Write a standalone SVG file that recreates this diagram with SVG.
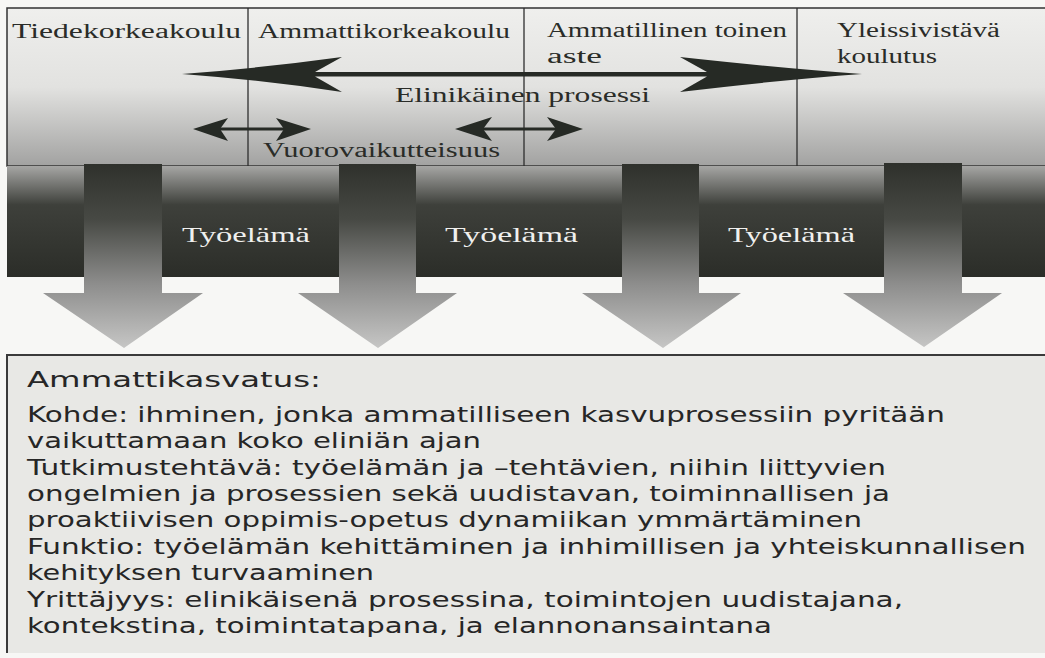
<svg xmlns="http://www.w3.org/2000/svg" width="1045" height="658" viewBox="0 0 1045 658">
<defs>
<style>
.top{font-family:"Liberation Serif","DejaVu Serif",serif;font-size:20px;fill:#2a2c28}
.work{font-family:"Liberation Serif","DejaVu Serif",serif;font-size:21px;fill:#f0f0ee}
.body{font-family:"DejaVu Sans","Verdana",sans-serif;font-size:22px;fill:#262626}
.head{font-family:"DejaVu Sans","Verdana",sans-serif;font-size:22px;fill:#262626}
.div{stroke:#2e2e2e;stroke-width:1.3}
.ink{fill:#262a25}
.thin{stroke:#262a25;stroke-width:3;fill:none}
</style>
<linearGradient id="gTop" x1="0" y1="8" x2="0" y2="166" gradientUnits="userSpaceOnUse">
<stop offset="0" stop-color="#efefed"/>
<stop offset="0.5" stop-color="#e2e2e0"/>
<stop offset="1" stop-color="#a2a2a1"/>
</linearGradient>
<linearGradient id="gBand" x1="0" y1="166" x2="0" y2="277" gradientUnits="userSpaceOnUse">
<stop offset="0" stop-color="#a6a6a4"/>
<stop offset="0.35" stop-color="#3e403b"/>
<stop offset="1" stop-color="#2b2d28"/>
</linearGradient>
<linearGradient id="gArrow" x1="0" y1="164" x2="0" y2="348" gradientUnits="userSpaceOnUse">
<stop offset="0" stop-color="#2f312c"/>
<stop offset="0.3" stop-color="#474944"/>
<stop offset="0.65" stop-color="#8d8d8c"/>
<stop offset="1" stop-color="#c6c6c5"/>
</linearGradient>
</defs>
<rect width="1045" height="658" fill="#f7f7f5"/>

<g id="top-panel">
<rect x="7" y="8" width="1050" height="158" fill="url(#gTop)" stroke="#333" stroke-width="1.5"/>
<line class="div" x1="248" y1="8" x2="248" y2="166"/>
<line class="div" x1="524" y1="8" x2="524" y2="166"/>
<line class="div" x1="797" y1="8" x2="797" y2="166"/>
</g>

<g id="node-tiedekorkeakoulu"><text class="top" x="12" y="38" textLength="229" lengthAdjust="spacingAndGlyphs">Tiedekorkeakoulu</text></g>
<g id="node-ammattikorkeakoulu"><text class="top" x="258" y="38" textLength="252" lengthAdjust="spacingAndGlyphs">Ammattikorkeakoulu</text></g>
<g id="node-ammatillinen"><text class="top" x="547" y="37" textLength="240" lengthAdjust="spacingAndGlyphs">Ammatillinen toinen</text><text class="top" x="547" y="63" textLength="55" lengthAdjust="spacingAndGlyphs">aste</text></g>
<g id="node-yleissivistava"><text class="top" x="837" y="37" textLength="163" lengthAdjust="spacingAndGlyphs">Yleissivistävä</text><text class="top" x="837" y="63" textLength="100" lengthAdjust="spacingAndGlyphs">koulutus</text></g>

<g id="connectors">
<path class="ink" d="M182,74 Q262,68 342,57 L315,72 L707,72 L680,57 Q780,68 862,74 Q780,80 680,92 L707,76.5 L315,76.5 L342,92 Q262,80 182,74 Z"/>
<line class="thin" x1="215" y1="129" x2="292" y2="129"/>
<path class="ink" d="M193,129 L228,118 L220,129 L228,141 Z"/>
<path class="ink" d="M311,129 L276,118 L284,129 L276,141 Z"/>
<line class="thin" x1="478" y1="129" x2="560" y2="129"/>
<path class="ink" d="M455,129 L492,117 L483,129 L492,141 Z"/>
<path class="ink" d="M583,129 L547,117 L556,129 L547,141 Z"/>
</g>

<g id="label-elinikainen"><text class="top" x="395" y="102" textLength="255" lengthAdjust="spacingAndGlyphs">Elinikäinen prosessi</text></g>
<g id="label-vuorovaikutteisuus"><text class="top" x="263" y="157" textLength="237" lengthAdjust="spacingAndGlyphs">Vuorovaikutteisuus</text></g>

<g id="band-tyoelama">
<rect x="7" y="166" width="1050" height="111" fill="url(#gBand)"/>
<text class="work" x="182" y="242" textLength="128" lengthAdjust="spacingAndGlyphs">Työelämä</text>
<text class="work" x="445" y="242" textLength="133" lengthAdjust="spacingAndGlyphs">Työelämä</text>
<text class="work" x="728" y="242" textLength="127" lengthAdjust="spacingAndGlyphs">Työelämä</text>
</g>

<g id="down-arrows">
<path fill="url(#gArrow)" d="M84,164 L162,164 L162,293 L203,293 L124,348 L43,293 L84,293 Z"/>
<path fill="url(#gArrow)" d="M339,164 L416,164 L416,293 L457,293 L378,348 L298,293 L339,293 Z"/>
<path fill="url(#gArrow)" d="M622,164 L699,164 L699,293 L741,293 L663,348 L582,293 L622,293 Z"/>
<path fill="url(#gArrow)" d="M884,163 L962,163 L962,293 L1002,293 L924,347 L843,293 L884,293 Z"/>
</g>

<g id="node-ammattikasvatus">
<rect x="7" y="355" width="1050" height="298" fill="#e8e8e5"/>
<path d="M7,653 L7,355 L1045,355" fill="none" stroke="#3a3a3a" stroke-width="2"/>
<text class="head" x="27" y="387" textLength="294" lengthAdjust="spacingAndGlyphs">Ammattikasvatus:</text>
<text class="body" x="27" y="422" textLength="918" lengthAdjust="spacingAndGlyphs">Kohde: ihminen, jonka ammatilliseen kasvuprosessiin pyritään</text>
<text class="body" x="27" y="448" textLength="454" lengthAdjust="spacingAndGlyphs">vaikuttamaan koko eliniän ajan</text>
<text class="body" x="27" y="475" textLength="859" lengthAdjust="spacingAndGlyphs">Tutkimustehtävä: työelämän ja –tehtävien, niihin liittyvien</text>
<text class="body" x="27" y="501" textLength="863" lengthAdjust="spacingAndGlyphs">ongelmien ja prosessien sekä uudistavan, toiminnallisen ja</text>
<text class="body" x="27" y="527" textLength="835" lengthAdjust="spacingAndGlyphs">proaktiivisen oppimis-opetus dynamiikan ymmärtäminen</text>
<text class="body" x="27" y="554" textLength="999" lengthAdjust="spacingAndGlyphs">Funktio: työelämän kehittäminen ja inhimillisen ja yhteiskunnallisen</text>
<text class="body" x="27" y="580" textLength="347" lengthAdjust="spacingAndGlyphs">kehityksen turvaaminen</text>
<text class="body" x="27" y="607" textLength="876" lengthAdjust="spacingAndGlyphs">Yrittäjyys: elinikäisenä prosessina, toimintojen uudistajana,</text>
<text class="body" x="27" y="633" textLength="745" lengthAdjust="spacingAndGlyphs">kontekstina, toimintatapana, ja elannonansaintana</text>
</g>
</svg>
